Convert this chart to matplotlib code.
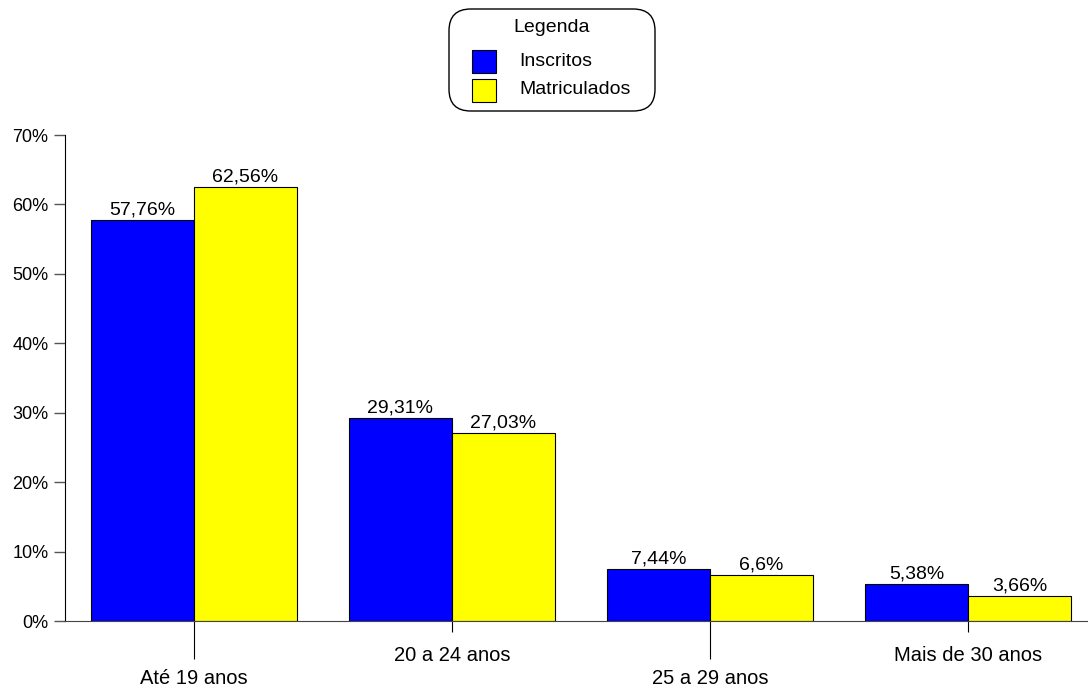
import matplotlib
matplotlib.use("Agg")
import matplotlib.pyplot as plt
from matplotlib.patches import FancyBboxPatch, Rectangle
import numpy as np

categories = ["Até 19 anos", "20 a 24 anos", "25 a 29 anos", "Mais de 30 anos"]
series_names = ["Inscritos", "Matriculados"]
inscritos = [57.76, 29.31, 7.44, 5.38]
matriculados = [62.56, 27.03, 6.6, 3.66]
value_labels_insc = ["57,76%", "29,31%", "7,44%", "5,38%"]
value_labels_matr = ["62,56%", "27,03%", "6,6%", "3,66%"]
yticks = [0, 10, 20, 30, 40, 50, 60, 70]

plt.rcParams['font.family'] = ['Liberation Sans', 'DejaVu Sans']

W, H = 1088, 688
fig = plt.figure(figsize=(W / 100, H / 100), dpi=100)
ax = fig.add_axes([65 / W, (H - 621) / H, (W - 65) / W, 486 / H])

colors = ["#0000FF", "#FFFF00"]
x = np.arange(len(categories))
bw = 103 / 258
ax.bar(x - bw / 2, inscritos, bw, color=colors[0], edgecolor="black", linewidth=0.8)
ax.bar(x + bw / 2, matriculados, bw, color=colors[1], edgecolor="black", linewidth=0.8)

for xi, v, lab in zip(x, inscritos, value_labels_insc):
    ax.annotate(lab, (xi - bw / 2, v), xytext=(0, 1), textcoords="offset points",
                ha="center", va="bottom", fontsize=14, clip_on=False)
for xi, v, lab in zip(x, matriculados, value_labels_matr):
    ax.annotate(lab, (xi + bw / 2, v), xytext=(0, 1), textcoords="offset points",
                ha="center", va="bottom", fontsize=14, clip_on=False)

ax.set_xlim(-0.5, (W - 194) / 258)
ax.set_ylim(0, 70)
ax.set_yticks(yticks)
ax.set_yticklabels([f"{t}%" for t in yticks], fontsize=13)
ax.tick_params(axis="y", length=8, width=1, color="#555555", pad=4)

ax.set_xticks(x[::2])
ax.set_xticklabels(categories[::2], fontsize=14.5)
ax.set_xticks(x[1::2], minor=True)
ax.set_xticklabels(categories[1::2], minor=True, fontsize=14.5)
ax.tick_params(axis="x", which="major", length=27.5, width=0.8, color="black", pad=7)
ax.tick_params(axis="x", which="minor", length=8, width=0.8, color="black", pad=10)

for s in ["top", "right"]:
    ax.spines[s].set_visible(False)
ax.spines["left"].set_color("black")
ax.spines["bottom"].set_color("#444444")

# Legend box
lx0, ly0, lx1, ly1 = 449, 9, 655, 111
box = FancyBboxPatch((lx0 / W, 1 - ly1 / H), (lx1 - lx0) / W, (ly1 - ly0) / H,
                     boxstyle="round,pad=0,rounding_size=0.02",
                     transform=fig.transFigure, facecolor="white",
                     edgecolor="black", linewidth=1, mutation_aspect=W / H)
fig.patches.append(box)
fig.text(552 / W, 1 - 27 / H, "Legenda", ha="center", va="center", fontsize=14)
for i, (name, col) in enumerate(zip(series_names, colors)):
    yc = 61 + i * 28.5
    r = Rectangle((472 / W, 1 - (yc + 12) / H), 24 / W, 23 / H,
                  transform=fig.transFigure, facecolor=col, edgecolor="black", linewidth=0.8)
    fig.patches.append(r)
    fig.text(519 / W, 1 - yc / H, name, ha="left", va="center", fontsize=14)

fig.savefig("out.png", dpi=100)
